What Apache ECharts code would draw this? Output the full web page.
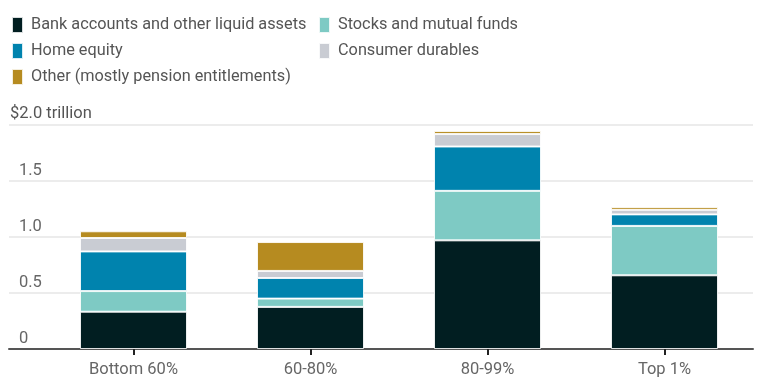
<!DOCTYPE html>
<html><head><meta charset="utf-8">
<script src="https://cdn.jsdelivr.net/npm/echarts@6/dist/echarts.min.js"></script>
<style>html,body{margin:0;padding:0;background:#fff}#c{width:769px;height:386px}</style>
</head><body><div id="c"></div>
<script>
const categories = ['Bottom 60%', '60-80%', '80-99%', 'Top 1%'];
const seriesNames = ['Bank accounts and other liquid assets', 'Stocks and mutual funds', 'Home equity', 'Consumer durables', 'Other (mostly pension entitlements)'];
const bankLiquid = [0.333, 0.376, 0.970, 0.658];
const stocksFunds = [0.184, 0.074, 0.442, 0.441];
const homeEquity = [0.354, 0.184, 0.396, 0.103];
const consumerDurables = [0.120, 0.063, 0.111, 0.041];
const otherPension = [0.060, 0.258, 0.027, 0.025];
const yTicks = [0, 0.5, 1.0, 1.5, 2.0];
const colors = ['#011e21', '#7ecac4', '#0083ae', '#c9ccd3', '#b68b20'];
const values = [bankLiquid, stocksFunds, homeEquity, consumerDurables, otherPension];

const FONT = 'Roboto';
const chart = echarts.init(document.getElementById('c'), null, {renderer: 'canvas'});
const legendText = {color: '#555', fontSize: 16.3, fontFamily: FONT, lineHeight: 16, padding: [0, 0, 0, 3]};
chart.setOption({
  animation: false,
  color: colors,
  legend: [
    {orient: 'vertical', left: 11, top: 16, padding: 0, itemWidth: 11, itemHeight: 16, itemGap: 8, icon: 'rect',
     data: [seriesNames[0], seriesNames[2], seriesNames[4]], textStyle: legendText},
    {orient: 'vertical', left: 318, top: 16, padding: 0, itemWidth: 11, itemHeight: 16, itemGap: 8, icon: 'rect',
     data: [seriesNames[1], seriesNames[3]], textStyle: legendText}
  ],
  grid: [
    {left: 9, right: 16, top: 125, bottom: 37},
    {left: 45, right: 16, top: 125, bottom: 37}
  ],
  xAxis: [
    {gridIndex: 0, type: 'category', data: categories, axisLine: {lineStyle: {color: '#555', width: 2}}, axisTick: {show: false}, axisLabel: {show: false}},
    {gridIndex: 1, type: 'category', data: categories, axisLine: {show: false},
     axisTick: {show: true, alignWithLabel: true, length: 6, lineStyle: {color: '#222', width: 2}},
     axisLabel: {color: '#666', fontSize: 16.5, fontFamily: FONT, margin: 12}}
  ],
  yAxis: [
    {gridIndex: 0, type: 'value', min: yTicks[0], max: yTicks[yTicks.length - 1], interval: 0.5,
     axisLine: {show: false}, axisTick: {show: false},
     splitLine: {lineStyle: {color: '#e6e6e6', width: 1.5}},
     axisLabel: {inside: true, verticalAlign: 'bottom', margin: 0, fontFamily: FONT,
       formatter: v => v === 2 ? '{t|$2.0 trillion}' : '{n|' + (v === 0 ? '0' : v.toFixed(1)) + '}',
       rich: {
         t: {color: '#555', fontSize: 16.5, fontFamily: FONT, padding: [0, 0, 3, 1]},
         n: {color: '#666', fontSize: 16.5, fontFamily: FONT, padding: [0, 0, 2, 10]}
       }}},
    {gridIndex: 1, type: 'value', min: 0, max: 2, show: false, splitLine: {show: false}}
  ],
  series: seriesNames.map((name, i) => ({
    name, type: 'bar', stack: 'total', xAxisIndex: 1, yAxisIndex: 1,
    barWidth: 107, data: values[i],
    itemStyle: {color: colors[i], borderColor: 'rgba(255,255,255,0.85)', borderWidth: 1}
  }))
});
</script></body></html>
